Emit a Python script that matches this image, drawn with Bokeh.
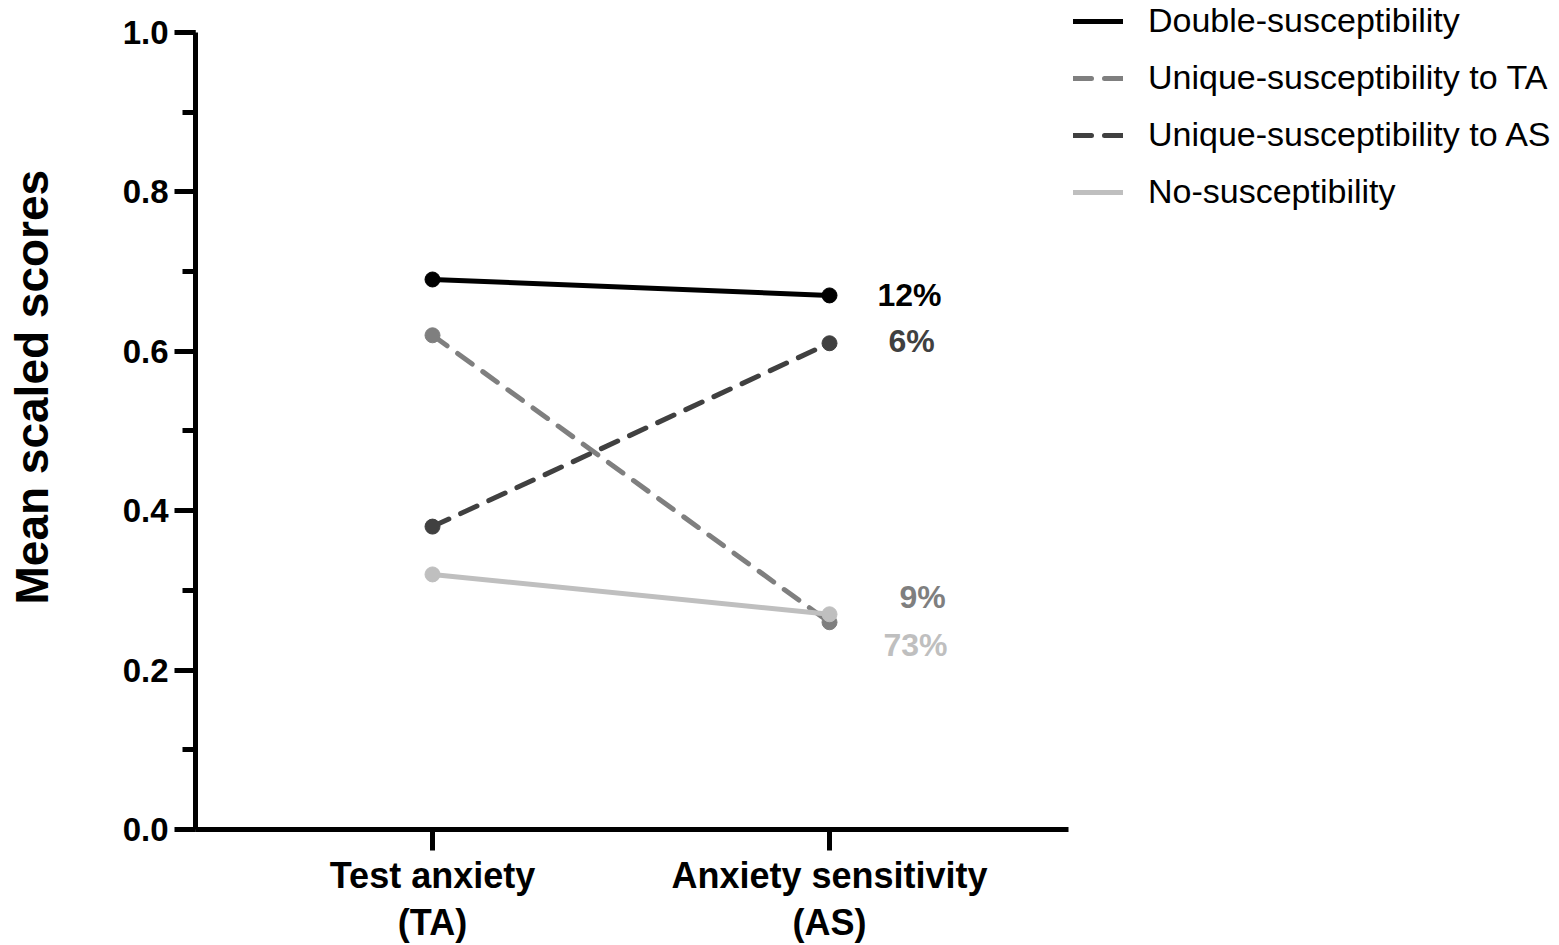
from bokeh.plotting import figure
from bokeh.layouts import row
from bokeh.models import (ColumnDataSource, Range1d, FixedTicker, SingleIntervalTicker,
                          NumeralTickFormatter, Legend, LegendItem, Title)
from bokeh.core.properties import value
from bokeh.embed import file_html
from bokeh.resources import INLINE

# ---------------- data ----------------
categories = ["Test anxiety\n(TA)", "Anxiety sensitivity\n(AS)"]
cat_pos = [0, 1]
groups = ["Double-susceptibility", "Unique-susceptibility to TA",
          "Unique-susceptibility to AS", "No-susceptibility"]
double_susc = [0.69, 0.67]
unique_ta = [0.62, 0.26]
unique_as = [0.38, 0.61]
no_susc = [0.32, 0.27]
shares = ["12%", "9%", "6%", "73%"]
y_ticks_interval = 0.2
y_axis_bounds = (0, 1)

# ---------------- style ----------------
colors = ["#000000", "#7f7f7f", "#404040", "#bfbfbf"]
dashes = ["solid", "18 13", "18 13", "solid"]
share_dx = [80, 93, 82, 86]      # label offsets in px
share_dy = [0, -25, -2, 31]
FONT = "Liberation Sans"

# y range extends a little above 1.0 so there is room above the axis for the legend
p = figure(width=1070, height=945, output_backend="svg", toolbar_location=None,
           x_range=Range1d(-0.597, 1.602), y_range=Range1d(0, 1.04),
           min_border_left=195, min_border_right=2, min_border_top=0,
           min_border_bottom=113)
p.outline_line_color = None
p.xgrid.visible = False
p.ygrid.visible = False
p.background_fill_color = "white"

# companion panel that holds the legend to the right of the plot
p2 = figure(width=485, height=945, output_backend="svg", toolbar_location=None,
            x_axis_type=None, y_axis_type=None, x_range=p.x_range, y_range=p.y_range,
            min_border=0)
p2.outline_line_color = None

series = [double_susc, unique_ta, unique_as, no_susc]
items = []
for name, vals, col, dash, share, dx, dy in zip(groups, series, colors, dashes,
                                                shares, share_dx, share_dy):
    src = ColumnDataSource(dict(x=cat_pos, y=vals))
    cap = "round" if dash != "solid" else "butt"
    p.line("x", "y", source=src, line_color=col, line_width=5,
           line_dash=dash, line_cap=cap)
    p.scatter("x", "y", source=src, size=15, fill_color=col, line_color=col)
    # same series, used only as the legend's key (not drawn)
    r2 = p2.line("x", "y", source=src, line_color=col, line_width=5,
                 line_dash=dash, line_cap="round", visible=False)
    items.append(LegendItem(label=name, renderers=[r2]))
    lsrc = ColumnDataSource(dict(x=[cat_pos[1]], y=[vals[1]], t=[share]))
    p.text("x", "y", text="t", source=lsrc, x_offset=dx, y_offset=dy,
           text_align="center", text_baseline="middle",
           text_font=value(FONT), text_font_style="bold",
           text_font_size="32px", text_color=col)

# ---------------- axes ----------------
xa = p.xaxis[0]
xa.ticker = FixedTicker(ticks=cat_pos)
xa.major_label_overrides = {c: lab for c, lab in zip(cat_pos, categories)}
xa.axis_line_width = 5
xa.major_tick_line_width = 5
xa.major_tick_out = 21
xa.major_tick_in = 0
xa.minor_tick_line_color = None
xa.major_label_text_font = FONT
xa.major_label_text_font_style = "bold"
xa.major_label_text_font_size = "36px"
xa.major_label_text_color = "black"
xa.major_label_text_line_height = 1.15
xa.major_label_standoff = 4

ya = p.yaxis[0]
ya.bounds = y_axis_bounds
ya.ticker = SingleIntervalTicker(interval=y_ticks_interval, num_minor_ticks=2)
ya.formatter = NumeralTickFormatter(format="0.0")
ya.axis_line_width = 5
ya.major_tick_line_width = 5
ya.minor_tick_line_width = 5
ya.major_tick_out = 21
ya.major_tick_in = 0
ya.minor_tick_out = 13
ya.minor_tick_in = 0
ya.major_label_text_font = FONT
ya.major_label_text_font_style = "bold"
ya.major_label_text_font_size = "33px"
ya.major_label_text_color = "black"
ya.major_label_standoff = 6
# blank axis label used only as spacing between tick labels and the title
ya.axis_label = " "
ya.axis_label_text_font_size = "1px"
ya.axis_label_standoff = 51

title = Title(text="Mean scaled scores", align="left", offset=225,
              vertical_align="top",
              text_font=FONT, text_font_style="bold", text_font_size="46px",
              text_color="black")
p.add_layout(title, "left")

legend = Legend(items=items, location=(3, 618), glyph_width=50, glyph_height=24,
                label_height=24, label_standoff=25, spacing=18, padding=0, margin=0,
                border_line_color=None, background_fill_alpha=0,
                inactive_fill_alpha=0,
                label_text_font=FONT, label_text_font_size="34px",
                label_text_color="black")
p2.add_layout(legend, "center")

layout = row(p, p2)
open("out.html", "w").write(file_html(layout, INLINE))
